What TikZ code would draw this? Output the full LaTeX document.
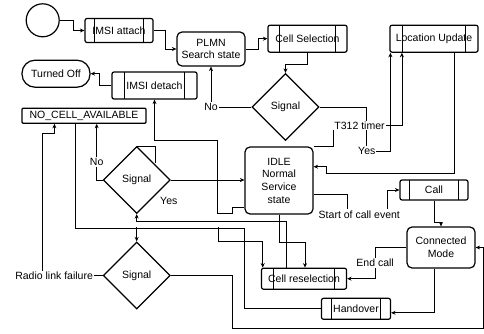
\documentclass[tikz,border=0pt]{standalone}
\usepackage{fontspec}
\setmainfont{Liberation Sans}
\usetikzlibrary{shapes.geometric,arrows.meta,calc}

\begin{document}
\begin{tikzpicture}[x=1pt, y=-1pt, >={Stealth[length=4.5pt,width=4pt]},
  font=\fontsize{10.5}{12.7}\selectfont,
  shapebox/.style={draw, line width=1.2pt, inner sep=0pt, align=center},
  proc/.style={shapebox, rounded corners=2pt, path picture={
    \draw[line width=1.2pt]
      ($(path picture bounding box.north west)!0.145!(path picture bounding box.north east)$) --
      ($(path picture bounding box.south west)!0.145!(path picture bounding box.south east)$)
      ($(path picture bounding box.north west)!0.855!(path picture bounding box.north east)$) --
      ($(path picture bounding box.south west)!0.855!(path picture bounding box.south east)$);}},
  statebox/.style={shapebox, rounded corners=5pt},
  term/.style={shapebox, rounded corners=13pt},
  decide/.style={shapebox, diamond, minimum width=67pt, minimum height=67pt},
  flow/.style={->, line width=0.7pt},
  plain/.style={line width=0.7pt},
  lbl/.style={fill=white, inner sep=1pt}]
\useasboundingbox (0,0) rectangle (484,334);

\node[shapebox, circle, minimum size=33pt] (start) at (42.7,20.3) {};
\node[proc, minimum width=68pt, minimum height=24pt] (attach) at (119,30.5) {IMSI attach};
\node[statebox, minimum width=68pt, minimum height=34pt] (plmn) at (211,49) {PLMN\\Search state};
\node[proc, minimum width=79pt, minimum height=27pt] (cellsel) at (307.5,38.7) {Cell Selection};
\node[proc, minimum width=88pt, minimum height=27pt] (locupd) at (434,38.7) {Location Update};
\node[decide] (sigA) at (285.5,107) {Signal};
\node[term, minimum width=68pt, minimum height=27pt] (off) at (56,73.7) {Turned Off};
\node[proc, minimum width=85pt, minimum height=27pt] (detach) at (154.5,85.5) {IMSI detach};
\node[shapebox, rounded corners=1pt, minimum width=124pt, minimum height=15pt] (nocell) at (84,115.7) {NO\_CELL\_AVAILABLE};
\node[decide] (sigB) at (136.7,180) {Signal};
\node[statebox, minimum width=68pt, minimum height=67pt] (idle) at (279,180.5) {IDLE\\Normal\\Service\\state};
\node[proc, minimum width=68pt, minimum height=20pt] (call) at (434,190) {Call};
\node[statebox, minimum width=68pt, minimum height=41pt] (connmode) at (441,247.5) {Connected\\Mode};
\node[decide] (sigC) at (136.7,275.5) {Signal};
\node[proc, minimum width=85pt, minimum height=21pt] (resel) at (304,278.7) {Cell reselection};
\node[proc, minimum width=69pt, minimum height=21pt] (hand) at (356,308.8) {Handover};

\coordinate (trunkA) at (136.7,227.3);
\coordinate (trunkB) at (218.3,227.3);

\draw[flow](start.east)--++(14,0)|-(attach.west);
\draw[flow](attach.east)--++(12,0)|-(plmn.west);
\draw[flow](plmn.east)--++(13,0)|-(cellsel.west);
\draw[flow](cellsel.south)--++(0,12)-|(sigA.north);
\draw[flow](sigA.west)-|node[lbl,pos=0.5]{No}(plmn.south);
\draw[flow](sigA.east)--++(47.2,0)--++(0,44)node[lbl]{Yes}-|($(locupd.south west)+(1,0)$);
\draw[flow](idle.north east)--++(20,0)--++(0,-21)-|node[lbl,pos=0.19]{T312 timer}($(locupd.south west)+(12.5,0)$);
\draw[flow]($(locupd.south west)+(65,0)$)--++(0,120.7)--++(-128.3,0)|-($(idle.east)+(0,-13.8)$);
\draw[flow]($(idle.east)+(0,13.8)$)--++(33.7,0)--++(0,20)--node[lbl,pos=0.3]{Start of call event}++(40,0)|-(call.west);
\draw[flow](call.south)--++(0,21.5)-|(connmode.north);
\draw[flow](connmode.west)--++(-31.3,0)|-node[lbl,pos=0.25]{End call}(resel.east);
\draw[flow]($(connmode.south)+(-7,0)$)|-($(hand.east)+(0,4)$);
\draw[flow](sigB.east)--node[pos=0,xshift=-2pt,yshift=-20.5pt,inner sep=1pt]{Yes}(sigB.east-|idle.west);
\draw[plain](sigB.north)--++(18.3,0)--++(0,17);
\draw[flow](sigB.west)-|node[lbl,pos=0.66]{No}($(nocell.south)+(12.7,0)$);
\draw[flow]($(idle.west)+(0,26.5)$)--++(-11.7,0)--++(0,6.3)--++(-15,0)--++(0,-73.3)-|(detach.south);
\draw[flow](sigC.west)--node[lbl,pos=0.8]{Radio link failure}++(-60.6,0)--++(0,-142.2)-|($(nocell.south west)+(33,0)$);
\draw[flow](sigC.east)--++(61.7,0)--++(0,52.8)--++(251.3,0)|-(connmode.east);
\draw[plain]($(nocell.south west)+(54,0)$)--++(0,104.1)--++(169,0)|-(hand.west);
\draw[flow](trunkA)--(sigC.north);
\draw[flow](trunkB)--++(0,14.4)-|($(resel.north west)+(1.8,0)$);
\draw[flow](idle.south)--++(0,27.7)-|($(resel.north)+(1,0)$);
\draw[flow]($(resel.north)+(-18,0)$)--++(0,-46.5)-|(sigB.south);
\draw[flow](detach.west)--++(-12,0)|-(off.east);

\end{tikzpicture}
\end{document}
